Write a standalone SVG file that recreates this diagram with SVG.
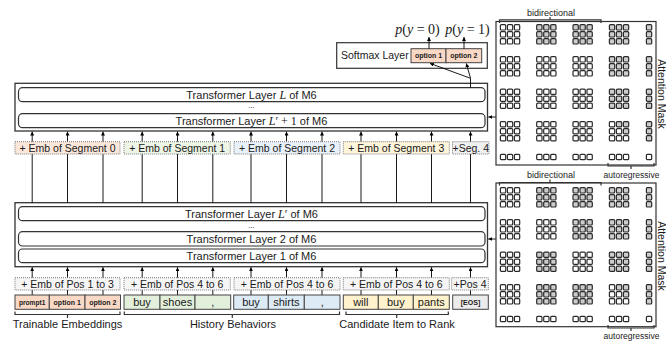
<svg xmlns="http://www.w3.org/2000/svg" width="666" height="341" viewBox="0 0 666 341">
<style>
text{font-family:"Liberation Sans",Arial,sans-serif;fill:#1a1a1a}
.t11{font-size:11px}
.t105{font-size:10.5px}
.b7{font-size:7px;font-weight:bold}
.m{font-family:"Liberation Serif","Times New Roman",serif;font-style:italic;font-size:12px}
.mu{font-family:"Liberation Serif","Times New Roman",serif;font-size:12px}
.outer{fill:#fff;stroke:#333;stroke-width:1.3}
.inner{fill:#fff;stroke:#333;stroke-width:1.2}
.emb{stroke:#7a7a7a;stroke-width:1;stroke-dasharray:1 1}
.tok{stroke:#444;stroke-width:1}
.c0{fill:#fbe7da}.c1{fill:#edf5e6}.c2{fill:#e8f0f9}.c3{fill:#fff5da}.c4{fill:#f0f0f0}.cp{fill:#f5f5f5}
.k0{fill:#f9d9c6}.k1{fill:#e2efda}.k2{fill:#ddebf7}.k3{fill:#fff2cc}.k4{fill:#ececec}
.ln{stroke:#000;stroke-width:0.9;fill:none}
.br{stroke:#333;stroke-width:1.2;fill:none}
.cw{fill:#fff;stroke:#2a2a2a;stroke-width:1.2}
.cg{fill:#cdcdcd;stroke:#2a2a2a;stroke-width:1.2}
.mb{fill:#fff;stroke:#333;stroke-width:1.2}
</style>
<defs>
<marker id="ah" viewBox="0 0 6 6" refX="6" refY="3" markerWidth="4" markerHeight="4" markerUnits="userSpaceOnUse" orient="auto"><path d="M0,0 L6,3 L0,6 z" fill="#000"/></marker>
<rect id="w" x="0.4" y="0.4" width="5.3" height="5.3" rx="1" class="cw"/>
<rect id="g" x="0.4" y="0.4" width="5.3" height="5.3" rx="1" class="cg"/>
</defs>
<rect width="666" height="341" fill="#fff"/>

<g id="upper-stack">
<rect class="outer" x="15" y="83.3" width="472.5" height="47.7"/>
<rect class="inner" x="18.5" y="87.7" width="466.5" height="14" rx="4"/>
<text class="t11" x="251.5" y="98.6" text-anchor="middle">Transformer Layer <tspan class="m">L</tspan> of M6</text>
<text x="251.5" y="108.3" text-anchor="middle" font-size="8">...</text>
<rect class="inner" x="18.5" y="113.7" width="466.5" height="14" rx="4"/>
<text class="t11" x="251.5" y="124.6" text-anchor="middle">Transformer Layer <tspan class="m">L</tspan><tspan class="mu">′ + 1</tspan> of M6</text>
</g>

<g id="lower-stack">
<rect class="outer" x="15" y="202.7" width="472.5" height="64"/>
<rect class="inner" x="18.5" y="206.7" width="466.5" height="14" rx="4"/>
<text class="t11" x="251.5" y="217.6" text-anchor="middle">Transformer Layer <tspan class="m">L</tspan><tspan class="mu">′</tspan> of M6</text>
<text x="251.5" y="227.8" text-anchor="middle" font-size="8">...</text>
<rect class="inner" x="18.5" y="231.7" width="466.5" height="14.3" rx="4"/>
<text class="t11" x="251.5" y="242.7" text-anchor="middle">Transformer Layer 2 of M6</text>
<rect class="inner" x="18.5" y="249" width="466.5" height="13.7" rx="4"/>
<text class="t11" x="251.5" y="259.7" text-anchor="middle">Transformer Layer 1 of M6</text>
</g>

<g id="softmax">
<rect x="336.7" y="42.7" width="150.6" height="25.6" fill="#fff" stroke="#333" stroke-width="1.2"/>
<text class="t105" x="341" y="59">Softmax Layer</text>
<rect class="tok k0" x="411" y="48.7" width="35" height="14"/>
<rect class="tok k0" x="446" y="48.7" width="35.7" height="14"/>
<text class="b7" x="428.5" y="58.2" text-anchor="middle">option 1</text>
<text class="b7" x="463.8" y="58.2" text-anchor="middle">option 2</text>
</g>
<g id="outputs">
<text class="mu" style="font-size:14px" x="417.5" y="33.5" text-anchor="middle"><tspan class="m" style="font-size:14px">p</tspan>(<tspan class="m" style="font-size:14px">y</tspan> = 0)</text>
<text class="mu" style="font-size:14px" x="467.5" y="33.5" text-anchor="middle"><tspan class="m" style="font-size:14px">p</tspan>(<tspan class="m" style="font-size:14px">y</tspan> = 1)</text>
</g>

<g id="connectors">
<g class="ln" marker-end="url(#ah)">
<line x1="32.2" y1="202.7" x2="32.2" y2="131.6"/>
<line x1="67.5" y1="202.7" x2="67.5" y2="131.6"/>
<line x1="103" y1="202.7" x2="103" y2="131.6"/>
<line x1="142.2" y1="202.7" x2="142.2" y2="131.6"/>
<line x1="177.5" y1="202.7" x2="177.5" y2="131.6"/>
<line x1="212.8" y1="202.7" x2="212.8" y2="131.6"/>
<line x1="251" y1="202.7" x2="251" y2="131.6"/>
<line x1="286.5" y1="202.7" x2="286.5" y2="131.6"/>
<line x1="322" y1="202.7" x2="322" y2="131.6"/>
<line x1="361" y1="202.7" x2="361" y2="131.6"/>
<line x1="396.5" y1="202.7" x2="396.5" y2="131.6"/>
<line x1="431.5" y1="202.7" x2="431.5" y2="131.6"/>
<line x1="470.5" y1="202.7" x2="470.5" y2="131.6"/>
<line x1="32.2" y1="295" x2="32.2" y2="267.3"/>
<line x1="67.5" y1="295" x2="67.5" y2="267.3"/>
<line x1="103" y1="295" x2="103" y2="267.3"/>
<line x1="142.2" y1="295" x2="142.2" y2="267.3"/>
<line x1="177.5" y1="295" x2="177.5" y2="267.3"/>
<line x1="212.8" y1="295" x2="212.8" y2="267.3"/>
<line x1="251" y1="295" x2="251" y2="267.3"/>
<line x1="286.5" y1="295" x2="286.5" y2="267.3"/>
<line x1="322" y1="295" x2="322" y2="267.3"/>
<line x1="361" y1="295" x2="361" y2="267.3"/>
<line x1="396.5" y1="295" x2="396.5" y2="267.3"/>
<line x1="431.5" y1="295" x2="431.5" y2="267.3"/>
<line x1="470.5" y1="295" x2="470.5" y2="267.3"/>
<line x1="496" y1="117" x2="488.3" y2="117"/>
<line x1="496" y1="239" x2="488.3" y2="239"/>
<line x1="470.5" y1="78.3" x2="430" y2="63.4"/>
<line x1="470.5" y1="78.3" x2="466.3" y2="63.4"/>
<line x1="429" y1="48.7" x2="429" y2="37"/>
<line x1="464" y1="48.7" x2="464" y2="37"/>
</g>
<line class="ln" x1="470.5" y1="87.7" x2="470.5" y2="78.3"/>
</g>

<g id="seg-emb">
<rect class="emb c0" x="15" y="141.7" width="105" height="12.3"/>
<rect class="emb c1" x="124" y="141.7" width="106.3" height="12.3"/>
<rect class="emb c2" x="234" y="141.7" width="106" height="12.3"/>
<rect class="emb c3" x="343.3" y="141.7" width="106" height="12.3"/>
<rect class="emb c4" x="452.5" y="141.7" width="36.5" height="12.3"/>
<text class="t105" x="67.5" y="151.5" text-anchor="middle">+ Emb of Segment 0</text>
<text class="t105" x="177.2" y="151.5" text-anchor="middle">+ Emb of Segment 1</text>
<text class="t105" x="287" y="151.5" text-anchor="middle">+ Emb of Segment 2</text>
<text class="t105" x="396.3" y="151.5" text-anchor="middle">+ Emb of Segment 3</text>
<text class="t105" x="470.8" y="151.5" text-anchor="middle">+Seg. 4</text>
</g>

<g id="pos-emb">
<rect class="emb cp" x="15" y="277.7" width="105" height="12.3"/>
<rect class="emb cp" x="124" y="277.7" width="106.3" height="12.3"/>
<rect class="emb cp" x="234" y="277.7" width="106" height="12.3"/>
<rect class="emb cp" x="343.3" y="277.7" width="106" height="12.3"/>
<rect class="emb cp" x="451.7" y="277.7" width="36.6" height="12.3"/>
<text class="t105" x="67.5" y="287.5" text-anchor="middle">+ Emb of Pos 1 to 3</text>
<text class="t105" x="177.2" y="287.5" text-anchor="middle">+ Emb of Pos 4 to 6</text>
<text class="t105" x="287" y="287.5" text-anchor="middle">+ Emb of Pos 4 to 6</text>
<text class="t105" x="396.3" y="287.5" text-anchor="middle">+ Emb of Pos 4 to 6</text>
<text class="t105" x="470" y="287.5" text-anchor="middle">+Pos 4</text>
</g>

<g id="tokens-prompt">
<rect class="tok k0" x="15" y="295" width="34.3" height="14.3"/>
<rect class="tok k0" x="49.3" y="295" width="35.7" height="14.3"/>
<rect class="tok k0" x="85" y="295" width="35.5" height="14.3"/>
<text class="b7" style="font-size:6.6px" x="32.2" y="304.8" text-anchor="middle">prompt1</text>
<text class="b7" x="67.2" y="304.8" text-anchor="middle">option 1</text>
<text class="b7" x="102.8" y="304.8" text-anchor="middle">option 2</text>
</g>
<g id="tokens-history1">
<rect class="tok k1" x="124" y="295" width="36" height="14.3"/>
<rect class="tok k1" x="160" y="295" width="35" height="14.3"/>
<rect class="tok k1" x="195" y="295" width="35.7" height="14.3"/>
<text class="t11" x="142" y="306" text-anchor="middle">buy</text>
<text class="t11" x="177.5" y="306" text-anchor="middle">shoes</text>
<text class="t11" x="212.9" y="306" text-anchor="middle">,</text>
</g>
<g id="tokens-history2">
<rect class="tok k2" x="233.7" y="295" width="34.6" height="14.3"/>
<rect class="tok k2" x="268.3" y="295" width="36" height="14.3"/>
<rect class="tok k2" x="304.3" y="295" width="35.7" height="14.3"/>
<text class="t11" x="251" y="306" text-anchor="middle">buy</text>
<text class="t11" x="286.3" y="306" text-anchor="middle">shirts</text>
<text class="t11" x="322.2" y="306" text-anchor="middle">,</text>
</g>
<g id="tokens-candidate">
<rect class="tok k3" x="343.3" y="295" width="35" height="14.3"/>
<rect class="tok k3" x="378.3" y="295" width="35" height="14.3"/>
<rect class="tok k3" x="413.3" y="295" width="36" height="14.3"/>
<text class="t11" x="360.8" y="306" text-anchor="middle">will</text>
<text class="t11" x="395.8" y="306" text-anchor="middle">buy</text>
<text class="t11" x="431.3" y="306" text-anchor="middle">pants</text>
</g>
<g id="token-eos">
<rect class="tok k4" x="452.7" y="295" width="35.6" height="14.3"/>
<text class="b7" x="470.5" y="304.8" text-anchor="middle">[EOS]</text>
</g>

<g id="label-trainable">
<path class="br" d="M15,311.5 V314.5 H120 V311.5 M67.5,314.5 V318"/>
<text class="t11" x="67.5" y="328" text-anchor="middle">Trainable Embeddings</text>
</g>
<g id="label-history">
<path class="br" d="M124.3,311.5 V314.5 H339.5 V311.5 M232.3,314.5 V318"/>
<text class="t11" x="233" y="328" text-anchor="middle">History Behaviors</text>
</g>
<g id="label-candidate">
<path class="br" d="M346,311.5 V314.5 H448.3 V311.5 M396.7,314.5 V318"/>
<text class="t11" x="397" y="328" text-anchor="middle">Candidate Item to Rank</text>
</g>

<g id="mask-upper">
<rect class="mb" x="496" y="21.5" width="160" height="143.5"/>
<path class="br" d="M499.5,23 V19.8 H601 V23 M550,19.8 V17"/>
<text style="font-size:9px" x="551" y="16" text-anchor="middle">bidirectional</text>
<path class="br" d="M608,163 V166 H654 V163 M631,166 V169"/>
<text style="font-size:8.5px" x="631.5" y="177.5" text-anchor="middle">autoregressive</text>
<text style="font-size:10.5px" transform="translate(657.5,94) rotate(90)" text-anchor="middle">Attention Mask</text>
<g transform="translate(0,24.3)"><use href="#w" x="500"/><use href="#w" x="507"/><use href="#w" x="514"/><use href="#g" x="536.3"/><use href="#g" x="543.3"/><use href="#g" x="550.3"/><use href="#g" x="572.6"/><use href="#g" x="579.6"/><use href="#g" x="586.6"/><use href="#g" x="609"/><use href="#g" x="616"/><use href="#g" x="623"/><use href="#g" x="646"/></g>
<g transform="translate(0,31.3)"><use href="#w" x="500"/><use href="#w" x="507"/><use href="#w" x="514"/><use href="#g" x="536.3"/><use href="#g" x="543.3"/><use href="#g" x="550.3"/><use href="#g" x="572.6"/><use href="#g" x="579.6"/><use href="#g" x="586.6"/><use href="#g" x="609"/><use href="#g" x="616"/><use href="#g" x="623"/><use href="#g" x="646"/></g>
<g transform="translate(0,38.3)"><use href="#w" x="500"/><use href="#w" x="507"/><use href="#w" x="514"/><use href="#g" x="536.3"/><use href="#g" x="543.3"/><use href="#g" x="550.3"/><use href="#g" x="572.6"/><use href="#g" x="579.6"/><use href="#g" x="586.6"/><use href="#g" x="609"/><use href="#g" x="616"/><use href="#g" x="623"/><use href="#g" x="646"/></g>
<g transform="translate(0,56.3)"><use href="#w" x="500"/><use href="#w" x="507"/><use href="#w" x="514"/><use href="#w" x="536.3"/><use href="#w" x="543.3"/><use href="#w" x="550.3"/><use href="#w" x="572.6"/><use href="#w" x="579.6"/><use href="#w" x="586.6"/><use href="#g" x="609"/><use href="#g" x="616"/><use href="#g" x="623"/><use href="#g" x="646"/></g>
<g transform="translate(0,63.3)"><use href="#w" x="500"/><use href="#w" x="507"/><use href="#w" x="514"/><use href="#w" x="536.3"/><use href="#w" x="543.3"/><use href="#w" x="550.3"/><use href="#w" x="572.6"/><use href="#w" x="579.6"/><use href="#w" x="586.6"/><use href="#g" x="609"/><use href="#g" x="616"/><use href="#g" x="623"/><use href="#g" x="646"/></g>
<g transform="translate(0,70.3)"><use href="#w" x="500"/><use href="#w" x="507"/><use href="#w" x="514"/><use href="#w" x="536.3"/><use href="#w" x="543.3"/><use href="#w" x="550.3"/><use href="#w" x="572.6"/><use href="#w" x="579.6"/><use href="#w" x="586.6"/><use href="#g" x="609"/><use href="#g" x="616"/><use href="#g" x="623"/><use href="#g" x="646"/></g>
<g transform="translate(0,88.7)"><use href="#w" x="500"/><use href="#w" x="507"/><use href="#w" x="514"/><use href="#w" x="536.3"/><use href="#w" x="543.3"/><use href="#w" x="550.3"/><use href="#w" x="572.6"/><use href="#w" x="579.6"/><use href="#w" x="586.6"/><use href="#g" x="609"/><use href="#g" x="616"/><use href="#g" x="623"/><use href="#g" x="646"/></g>
<g transform="translate(0,95.7)"><use href="#w" x="500"/><use href="#w" x="507"/><use href="#w" x="514"/><use href="#w" x="536.3"/><use href="#w" x="543.3"/><use href="#w" x="550.3"/><use href="#w" x="572.6"/><use href="#w" x="579.6"/><use href="#w" x="586.6"/><use href="#g" x="609"/><use href="#g" x="616"/><use href="#g" x="623"/><use href="#g" x="646"/></g>
<g transform="translate(0,102.7)"><use href="#w" x="500"/><use href="#w" x="507"/><use href="#w" x="514"/><use href="#w" x="536.3"/><use href="#w" x="543.3"/><use href="#w" x="550.3"/><use href="#w" x="572.6"/><use href="#w" x="579.6"/><use href="#w" x="586.6"/><use href="#g" x="609"/><use href="#g" x="616"/><use href="#g" x="623"/><use href="#g" x="646"/></g>
<g transform="translate(0,121.2)"><use href="#w" x="500"/><use href="#w" x="507"/><use href="#w" x="514"/><use href="#w" x="536.3"/><use href="#w" x="543.3"/><use href="#w" x="550.3"/><use href="#w" x="572.6"/><use href="#w" x="579.6"/><use href="#w" x="586.6"/><use href="#w" x="609"/><use href="#g" x="616"/><use href="#g" x="623"/><use href="#g" x="646"/></g>
<g transform="translate(0,128.2)"><use href="#w" x="500"/><use href="#w" x="507"/><use href="#w" x="514"/><use href="#w" x="536.3"/><use href="#w" x="543.3"/><use href="#w" x="550.3"/><use href="#w" x="572.6"/><use href="#w" x="579.6"/><use href="#w" x="586.6"/><use href="#w" x="609"/><use href="#w" x="616"/><use href="#g" x="623"/><use href="#g" x="646"/></g>
<g transform="translate(0,135.2)"><use href="#w" x="500"/><use href="#w" x="507"/><use href="#w" x="514"/><use href="#w" x="536.3"/><use href="#w" x="543.3"/><use href="#w" x="550.3"/><use href="#w" x="572.6"/><use href="#w" x="579.6"/><use href="#w" x="586.6"/><use href="#w" x="609"/><use href="#w" x="616"/><use href="#w" x="623"/><use href="#g" x="646"/></g>
<g transform="translate(0,154)"><use href="#w" x="500"/><use href="#w" x="507"/><use href="#w" x="514"/><use href="#w" x="536.3"/><use href="#w" x="543.3"/><use href="#w" x="550.3"/><use href="#w" x="572.6"/><use href="#w" x="579.6"/><use href="#w" x="586.6"/><use href="#w" x="609"/><use href="#w" x="616"/><use href="#w" x="623"/><use href="#w" x="646"/></g>
</g>

<g id="mask-lower">
<rect class="mb" x="496" y="183" width="160" height="143.7"/>
<path class="br" d="M499.5,185.5 V182.5 H601 V185.5 M550,182.5 V179.5"/>
<text style="font-size:9px" x="551" y="177.5" text-anchor="middle">bidirectional</text>
<path class="br" d="M608,325 V328 H654 V325 M631,328 V331"/>
<text style="font-size:8.5px" x="631.5" y="339" text-anchor="middle">autoregressive</text>
<text style="font-size:10.5px" transform="translate(657.5,256) rotate(90)" text-anchor="middle">Attention Mask</text>
<g transform="translate(0,187.3)"><use href="#w" x="500"/><use href="#w" x="507"/><use href="#w" x="514"/><use href="#g" x="536.3"/><use href="#g" x="543.3"/><use href="#g" x="550.3"/><use href="#g" x="572.6"/><use href="#g" x="579.6"/><use href="#g" x="586.6"/><use href="#g" x="609"/><use href="#g" x="616"/><use href="#g" x="623"/><use href="#g" x="646"/></g>
<g transform="translate(0,194.3)"><use href="#w" x="500"/><use href="#w" x="507"/><use href="#w" x="514"/><use href="#g" x="536.3"/><use href="#g" x="543.3"/><use href="#g" x="550.3"/><use href="#g" x="572.6"/><use href="#g" x="579.6"/><use href="#g" x="586.6"/><use href="#g" x="609"/><use href="#g" x="616"/><use href="#g" x="623"/><use href="#g" x="646"/></g>
<g transform="translate(0,201.3)"><use href="#w" x="500"/><use href="#w" x="507"/><use href="#w" x="514"/><use href="#g" x="536.3"/><use href="#g" x="543.3"/><use href="#g" x="550.3"/><use href="#g" x="572.6"/><use href="#g" x="579.6"/><use href="#g" x="586.6"/><use href="#g" x="609"/><use href="#g" x="616"/><use href="#g" x="623"/><use href="#g" x="646"/></g>
<g transform="translate(0,219.3)"><use href="#w" x="500"/><use href="#w" x="507"/><use href="#w" x="514"/><use href="#w" x="536.3"/><use href="#w" x="543.3"/><use href="#w" x="550.3"/><use href="#g" x="572.6"/><use href="#g" x="579.6"/><use href="#g" x="586.6"/><use href="#g" x="609"/><use href="#g" x="616"/><use href="#g" x="623"/><use href="#g" x="646"/></g>
<g transform="translate(0,226.3)"><use href="#w" x="500"/><use href="#w" x="507"/><use href="#w" x="514"/><use href="#w" x="536.3"/><use href="#w" x="543.3"/><use href="#w" x="550.3"/><use href="#g" x="572.6"/><use href="#g" x="579.6"/><use href="#g" x="586.6"/><use href="#g" x="609"/><use href="#g" x="616"/><use href="#g" x="623"/><use href="#g" x="646"/></g>
<g transform="translate(0,233.3)"><use href="#w" x="500"/><use href="#w" x="507"/><use href="#w" x="514"/><use href="#w" x="536.3"/><use href="#w" x="543.3"/><use href="#w" x="550.3"/><use href="#g" x="572.6"/><use href="#g" x="579.6"/><use href="#g" x="586.6"/><use href="#g" x="609"/><use href="#g" x="616"/><use href="#g" x="623"/><use href="#g" x="646"/></g>
<g transform="translate(0,251.7)"><use href="#w" x="500"/><use href="#w" x="507"/><use href="#w" x="514"/><use href="#g" x="536.3"/><use href="#g" x="543.3"/><use href="#g" x="550.3"/><use href="#w" x="572.6"/><use href="#w" x="579.6"/><use href="#w" x="586.6"/><use href="#g" x="609"/><use href="#g" x="616"/><use href="#g" x="623"/><use href="#g" x="646"/></g>
<g transform="translate(0,258.7)"><use href="#w" x="500"/><use href="#w" x="507"/><use href="#w" x="514"/><use href="#g" x="536.3"/><use href="#g" x="543.3"/><use href="#g" x="550.3"/><use href="#w" x="572.6"/><use href="#w" x="579.6"/><use href="#w" x="586.6"/><use href="#g" x="609"/><use href="#g" x="616"/><use href="#g" x="623"/><use href="#g" x="646"/></g>
<g transform="translate(0,265.7)"><use href="#w" x="500"/><use href="#w" x="507"/><use href="#w" x="514"/><use href="#g" x="536.3"/><use href="#g" x="543.3"/><use href="#g" x="550.3"/><use href="#w" x="572.6"/><use href="#w" x="579.6"/><use href="#w" x="586.6"/><use href="#g" x="609"/><use href="#g" x="616"/><use href="#g" x="623"/><use href="#g" x="646"/></g>
<g transform="translate(0,284.3)"><use href="#w" x="500"/><use href="#w" x="507"/><use href="#w" x="514"/><use href="#g" x="536.3"/><use href="#g" x="543.3"/><use href="#g" x="550.3"/><use href="#g" x="572.6"/><use href="#g" x="579.6"/><use href="#g" x="586.6"/><use href="#w" x="609"/><use href="#g" x="616"/><use href="#g" x="623"/><use href="#g" x="646"/></g>
<g transform="translate(0,291.3)"><use href="#w" x="500"/><use href="#w" x="507"/><use href="#w" x="514"/><use href="#g" x="536.3"/><use href="#g" x="543.3"/><use href="#g" x="550.3"/><use href="#g" x="572.6"/><use href="#g" x="579.6"/><use href="#g" x="586.6"/><use href="#w" x="609"/><use href="#w" x="616"/><use href="#g" x="623"/><use href="#g" x="646"/></g>
<g transform="translate(0,298.3)"><use href="#w" x="500"/><use href="#w" x="507"/><use href="#w" x="514"/><use href="#g" x="536.3"/><use href="#g" x="543.3"/><use href="#g" x="550.3"/><use href="#g" x="572.6"/><use href="#g" x="579.6"/><use href="#g" x="586.6"/><use href="#w" x="609"/><use href="#w" x="616"/><use href="#w" x="623"/><use href="#g" x="646"/></g>
<g transform="translate(0,316)"><use href="#w" x="500"/><use href="#w" x="507"/><use href="#w" x="514"/><use href="#w" x="536.3"/><use href="#w" x="543.3"/><use href="#w" x="550.3"/><use href="#w" x="572.6"/><use href="#w" x="579.6"/><use href="#w" x="586.6"/><use href="#w" x="609"/><use href="#w" x="616"/><use href="#w" x="623"/><use href="#w" x="646"/></g>
</g>
</svg>
